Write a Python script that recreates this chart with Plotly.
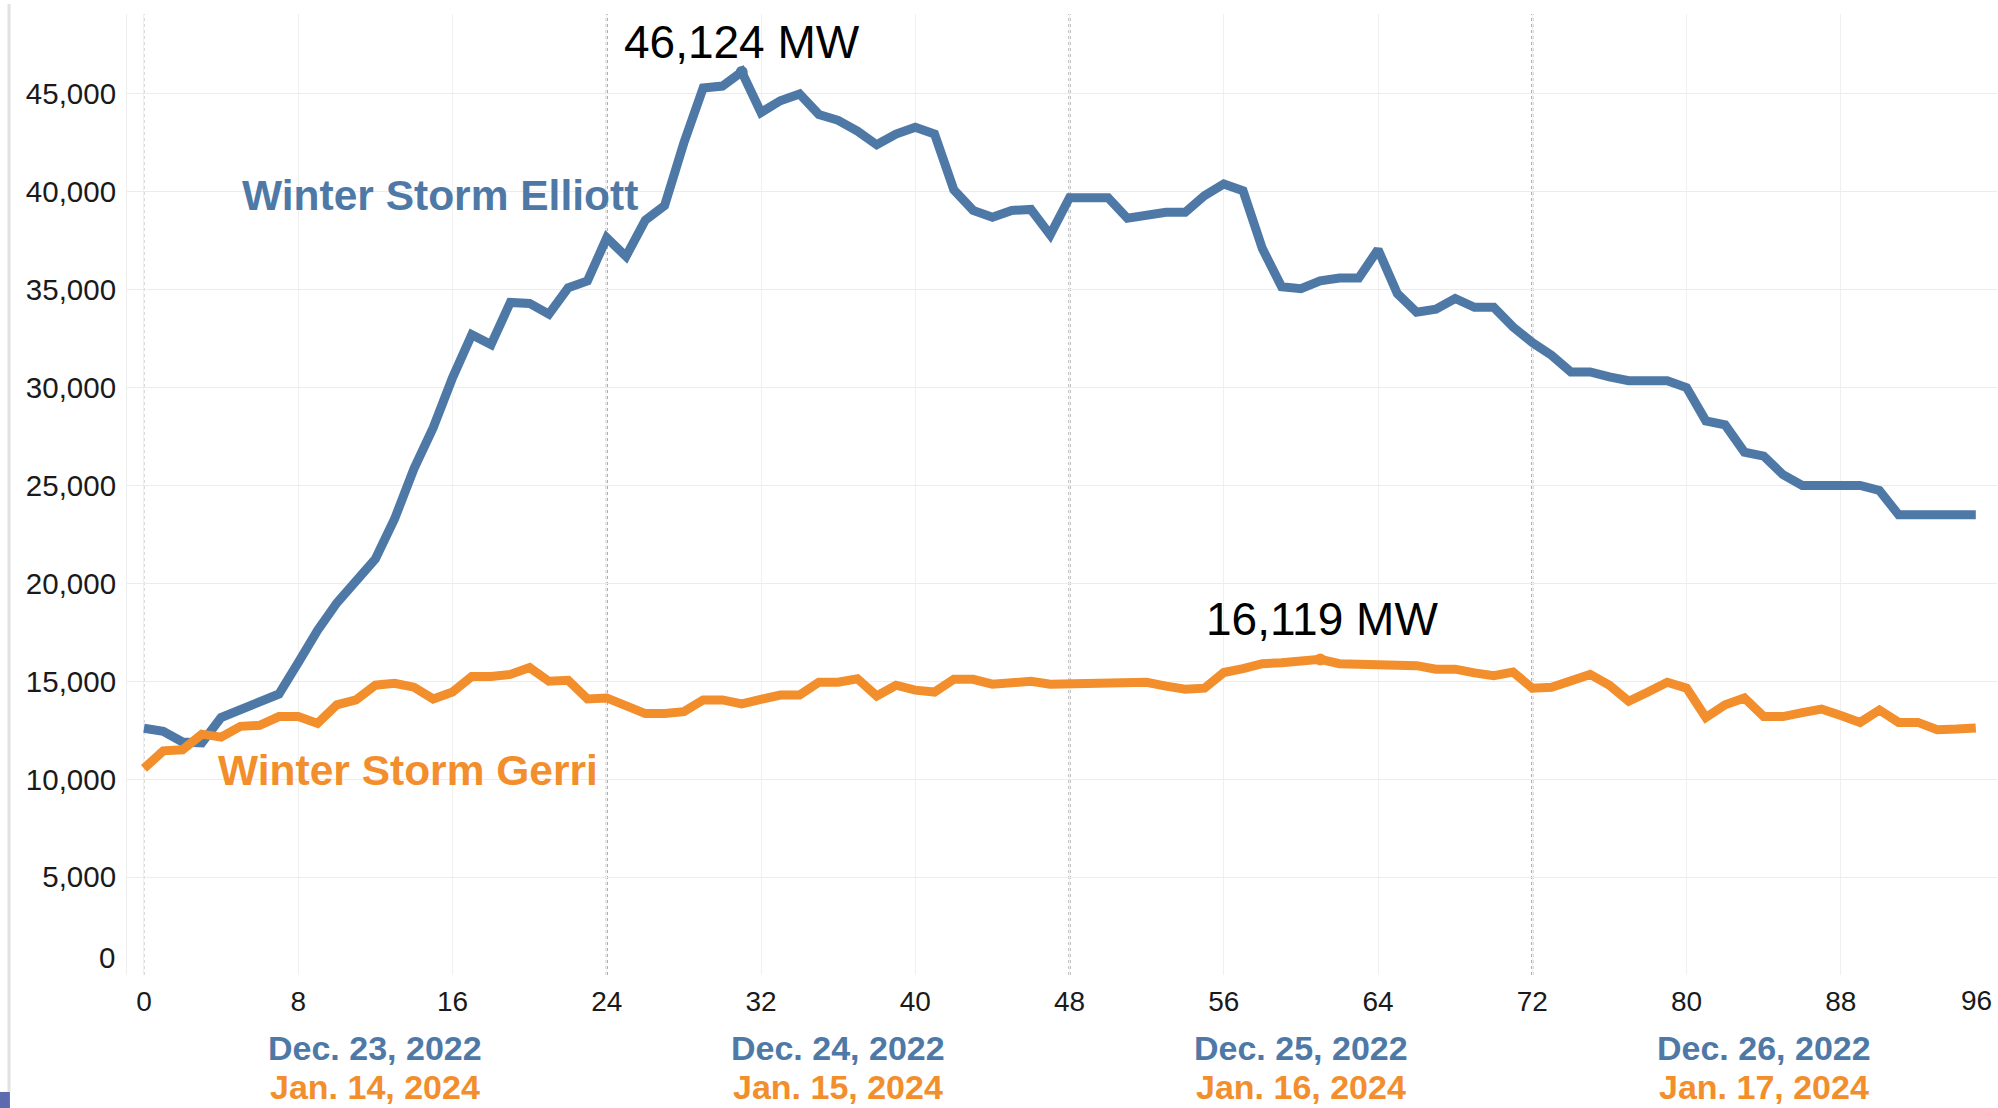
import plotly.graph_objects as go

# ---------------- data ----------------
hours = list(range(96))

elliott_mw = [12600, 12450, 11900, 11850, 13150, 13550, 14050, 14350, 15950, 17600,
              19000, 20150, 21250, 23300, 25850, 27950, 30500, 32700, 32200, 34350,
              34300, 33750, 35100, 35450, 37650, 36700, 38550, 39300, 42500, 45300,
              45400, 46124, 44050, 44650, 45000, 43950, 43650, 43100, 42400, 42950,
              43300, 42950, 40100, 39050, 38700, 39050, 39100, 37800, 39700, 39700,
              39700, 38650, 38850, 38950, 38950, 39800, 40400, 40050, 37100, 35150,
              35050, 35450, 35600, 35600, 37050, 34800, 33850, 34000, 34550, 34100,
              34100, 33100, 32300, 31650, 30800, 30800, 30550, 30350, 30350, 30350,
              30000, 28300, 28100, 26700, 26500, 25550, 25000, 25000, 25000, 25000,
              24750, 23500, 23500, 23500, 23500, 23500]

gerri_mw = [10550, 11450, 11500, 12300, 12150, 12700, 12750, 13200, 13200, 12850,
            13800, 14050, 14800, 14900, 14700, 14100, 14450, 15250, 15250, 15350,
            15700, 15000, 15050, 14100, 14150, 13800, 13350, 13350, 13450, 14050,
            14050, 13850, 14050, 14300, 14300, 14950, 14950, 15130, 14250, 14800,
            14550, 14450, 15100, 15100, 14850, 14950, 15000, 14850, 14850, 14850,
            14850, 14900, 14950, 14750, 14600, 14650, 15450, 15650, 15900, 15950,
            16000, 16119, 15900, 15880, 15880, 15850, 15800, 15620, 15620, 15430,
            15290, 15470, 14650, 14700, 15050, 15350, 14800, 13980, 14450, 14950,
            14650, 13150, 13800, 14150, 13200, 13200, 13400, 13580, 13250, 12900,
            13530, 12900, 12900, 12530, 12560, 12620]

x_tick_vals = [0, 8, 16, 24, 32, 40, 48, 56, 64, 72, 80, 88]
x_tick_text = ["0", "8", "16", "24", "32", "40", "48", "56", "64", "72", "80", "88"]
x_last_tick = 96
y_tick_vals = [5000, 10000, 15000, 20000, 25000, 30000, 35000, 40000, 45000]
y_tick_text = ["5,000", "10,000", "15,000", "20,000", "25,000", "30,000", "35,000", "40,000", "45,000"]
day_boundaries = [24, 48, 72]
day_centers = [12, 36, 60, 84]
elliott_dates = ["Dec. 23, 2022", "Dec. 24, 2022", "Dec. 25, 2022", "Dec. 26, 2022"]
gerri_dates = ["Jan. 14, 2024", "Jan. 15, 2024", "Jan. 16, 2024", "Jan. 17, 2024"]

BLUE = "#4e79a7"
ORANGE = "#f28e2b"
FONT = "Arial, Liberation Sans, sans-serif"
LINE_W = 9

fig = go.Figure()
fig.add_trace(go.Scatter(x=hours, y=elliott_mw, mode="lines",
                         line=dict(color=BLUE, width=LINE_W), hoverinfo="skip"))
fig.add_trace(go.Scatter(x=hours, y=gerri_mw, mode="lines",
                         line=dict(color=ORANGE, width=LINE_W), hoverinfo="skip"))

# peak markers
e_peak = max(range(len(elliott_mw)), key=lambda i: elliott_mw[i])
g_peak = max(range(len(gerri_mw)), key=lambda i: gerri_mw[i])
fig.add_trace(go.Scatter(x=[hours[e_peak]], y=[elliott_mw[e_peak]], mode="markers",
                         marker=dict(color=BLUE, size=12), hoverinfo="skip"))
fig.add_trace(go.Scatter(x=[hours[g_peak]], y=[gerri_mw[g_peak]], mode="markers",
                         marker=dict(color=ORANGE, size=12), hoverinfo="skip"))

shapes = []
# light dotted line at 0
shapes.append(dict(type="line", xref="x", yref="paper", x0=0, x1=0, y0=0, y1=1,
                   line=dict(color="#c0c0c0", width=1.2, dash="dot"), layer="below"))
for d in day_boundaries:
    shapes.append(dict(type="line", xref="x", yref="paper", x0=d, x1=d, y0=0, y1=1,
                       line=dict(color="#8f8f8f", width=2, dash="dot"), layer="below"))
# left shadow border and corner block
shapes.append(dict(type="line", xref="paper", yref="paper", x0=-0.0631, x1=-0.0631,
                   y0=1.0104, y1=-0.1217, line=dict(color="#e2e2e2", width=3)))
shapes.append(dict(type="rect", xref="paper", yref="paper", x0=-0.0680, x1=-0.0626,
                   y0=-0.1217, y1=-0.1400, line=dict(width=0), fillcolor="#5b6bae"))

annotations = []
for xc, t1, t2 in zip(day_centers, elliott_dates, gerri_dates):
    annotations.append(dict(x=xc, xref="x", y=-0.076, yref="paper", text="<b>%s</b>" % t1,
                            showarrow=False, xanchor="center", yanchor="middle",
                            font=dict(family=FONT, size=34, color=BLUE)))
    annotations.append(dict(x=xc, xref="x", y=-0.1165, yref="paper", text="<b>%s</b>" % t2,
                            showarrow=False, xanchor="center", yanchor="middle",
                            font=dict(family=FONT, size=34, color=ORANGE)))

annotations.append(dict(x=15.35, y=39835, xref="x", yref="y", text="<b>Winter Storm Elliott</b>",
                        showarrow=False, xanchor="center", yanchor="middle",
                        font=dict(family=FONT, size=42.5, color=BLUE)))
annotations.append(dict(x=13.67, y=10420, xref="x", yref="y", text="<b>Winter Storm Gerri</b>",
                        showarrow=False, xanchor="center", yanchor="middle",
                        font=dict(family=FONT, size=42.5, color=ORANGE)))
annotations.append(dict(x=hours[e_peak], y=47650, xref="x", yref="y",
                        text="{:,} MW".format(elliott_mw[e_peak]),
                        showarrow=False, xanchor="center", yanchor="middle",
                        font=dict(family=FONT, size=46, color="#000000")))
annotations.append(dict(x=hours[g_peak] + 0.07, y=18180, xref="x", yref="y",
                        text="{:,} MW".format(gerri_mw[g_peak]),
                        showarrow=False, xanchor="center", yanchor="middle",
                        font=dict(family=FONT, size=46, color="#000000")))
# "0" y label (sits above its gridline) and "96" x label (pulled inside)
annotations.append(dict(x=0, xref="paper", y=0, yref="y", text="0", showarrow=False,
                        xanchor="right", yanchor="middle", xshift=-10, yshift=18,
                        font=dict(family=FONT, size=29.5, color="#1a1a1a")))
annotations.append(dict(x=x_last_tick, xref="x", y=0, yref="paper", text=str(x_last_tick),
                        showarrow=False, xanchor="right", yanchor="middle", xshift=-1, yshift=-25,
                        font=dict(family=FONT, size=28, color="#1a1a1a")))

fig.update_layout(
    width=1998, height=1108,
    margin=dict(l=127, r=1, t=14, b=133),
    paper_bgcolor="white", plot_bgcolor="white",
    showlegend=False,
    shapes=shapes, annotations=annotations,
    xaxis=dict(range=[-0.88, 96.1], tickmode="array", tickvals=x_tick_vals, ticktext=x_tick_text,
               showgrid=True, gridcolor="#f0f0f0", gridwidth=1, zeroline=False, showline=False,
               ticks="outside", ticklen=1, tickcolor="rgba(0,0,0,0)",
               tickfont=dict(family=FONT, size=28, color="#1a1a1a"), automargin=False),
    yaxis=dict(range=[0, 49080], tickmode="array", tickvals=[0] + y_tick_vals, ticktext=[""] + y_tick_text,
               showgrid=True, gridcolor="#ececec", gridwidth=1, zeroline=False,
               showline=True, linecolor="#efefef", linewidth=1,
               ticks="outside", ticklen=4, tickcolor="rgba(0,0,0,0)",
               tickfont=dict(family=FONT, size=29.5, color="#1a1a1a"), automargin=False),
)

fig.write_html("out.html", config={"displayModeBar": False},
               post_script="document.body.style.margin='0px';document.body.style.overflow='hidden';")
